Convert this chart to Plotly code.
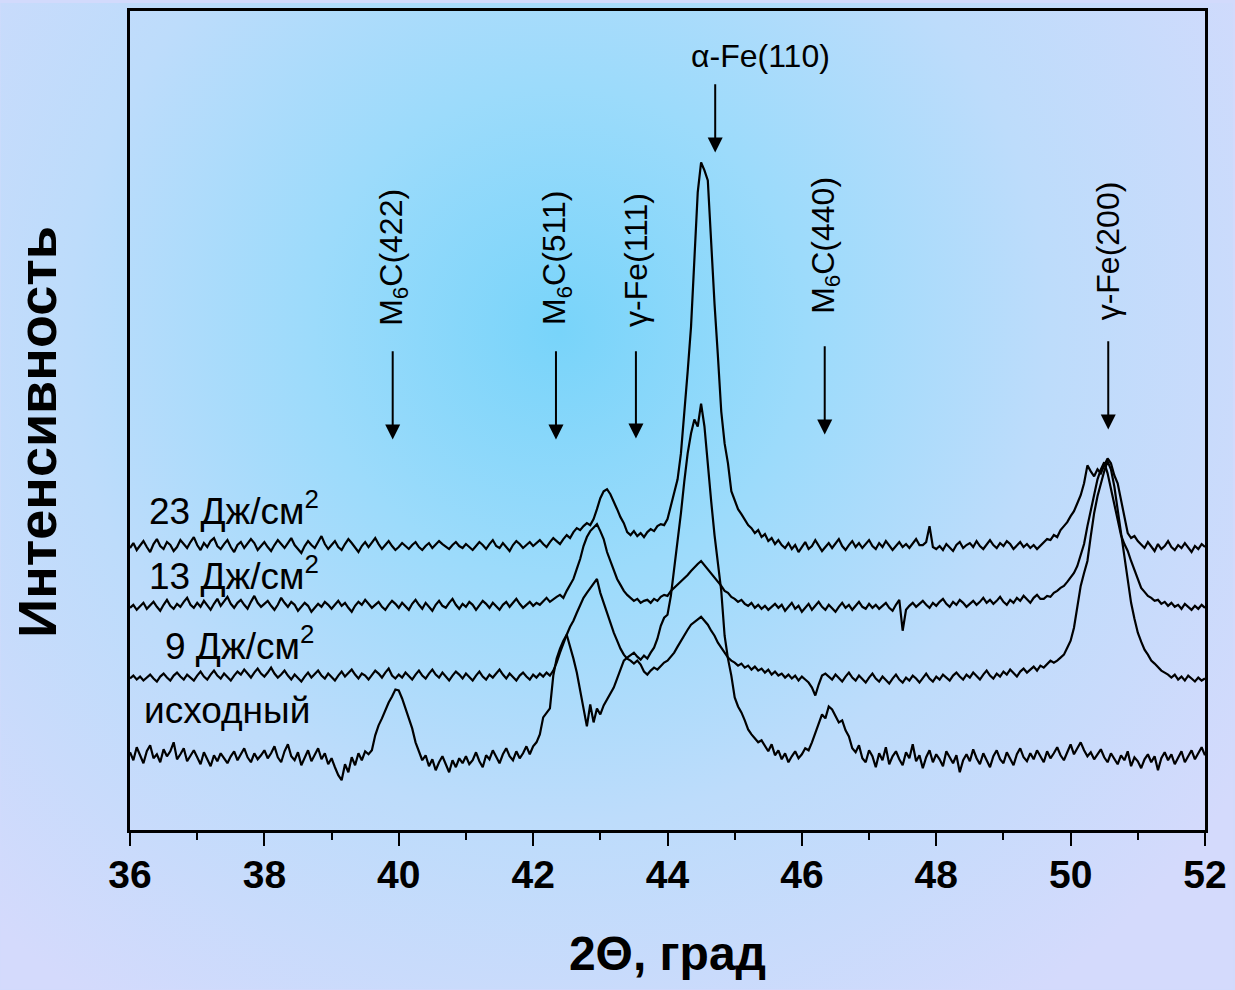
import base64
import numpy as np
import plotly.graph_objects as go

# 2θ scan grid: 36–52 degrees, 0.05 degree step
TWO_THETA = np.round(36 + 0.05 * np.arange(321), 2)

# Intensities (arbitrary units), one row per degree (20 points), last value at 52.00
I_23 = [
    283, 288, 281, 286, 290, 284, 279, 287, 292, 285, 282, 289, 286, 280, 284, 291, 287, 283, 289, 294,
    286, 281, 288, 284, 290, 293, 285, 282, 287, 291, 284, 279, 286, 289, 283, 287, 292, 288, 281, 285,
    289, 284, 280, 286, 291, 287, 283, 288, 293, 286, 282, 278, 285, 290, 286, 283, 289, 295, 287, 282,
    286, 290, 284, 281, 287, 292, 288, 283, 279, 285, 289, 284, 288, 293, 287, 282, 286, 290, 285, 281,
    284, 288, 285, 282, 286, 289, 284, 281, 285, 288, 283, 286, 290, 287, 284, 282, 286, 289, 285, 283,
    287, 284, 281, 285, 289, 286, 282, 287, 291, 285, 283, 288, 284, 280, 286, 290, 287, 283, 286, 289,
    285, 288, 291, 287, 284, 289, 293, 290, 287, 292, 296, 293, 299, 303, 301, 305, 308, 306, 312, 322,
    333, 340, 342, 337, 330, 322, 314, 308, 299, 296, 300, 295, 298, 294, 299, 302, 300, 305, 307, 306,
    312, 326, 337, 352, 378, 415, 460, 505, 570, 640, 670, 662, 652, 585, 528, 476, 420, 388, 368, 340,
    330, 322, 317, 312, 306, 303, 298, 301, 294, 297, 290, 293, 287, 291, 286, 283, 288, 282, 286, 279,
    284, 289, 282, 285, 291, 286, 280, 284, 288, 283, 287, 292, 285, 281, 286, 290, 284, 288, 283, 287,
    291, 285, 282, 288, 284, 290, 286, 281, 285, 289, 284, 287, 283, 288, 292, 286, 286, 289, 305, 284,
    282, 285, 281, 287, 284, 280, 286, 289, 283, 286, 288, 284, 290, 285, 282, 287, 291, 286, 283, 288,
    285, 290, 287, 282, 286, 289, 284, 287, 283, 286, 282, 285, 289, 292, 291, 296, 294, 301, 305, 309,
    315, 320, 328, 336, 348, 366, 360, 355, 362, 358, 366, 373, 368, 356, 348, 330, 312, 298, 293, 295,
    290, 286, 283, 289, 284, 280, 287, 282, 285, 290, 284, 281, 286, 283, 288, 284, 279, 285, 282, 287,
    284,
]

I_13 = [
    223, 226, 221, 224, 228, 222, 225, 229, 224, 220, 226, 231, 225, 222, 227, 224, 229, 233, 226, 223,
    228, 224, 230, 226, 221, 227, 232, 225, 229, 234, 227, 223, 228, 231, 226, 222, 229, 235, 228, 224,
    227, 230, 225, 221, 226, 233, 228, 224, 229, 226, 220, 224, 228, 225, 219, 223, 227, 224, 229, 226,
    222, 226, 230, 225, 228, 223, 219, 225, 229, 226, 231, 227, 223, 226, 229, 224, 221, 226, 230, 227,
    223, 228, 225, 221, 227, 231, 226, 222, 228, 224, 220, 226, 230, 225, 223, 228, 232, 226, 222, 227,
    224, 229, 226, 221, 225, 230, 227, 223, 228, 225, 221, 226, 229, 224, 228, 232, 227, 223, 226, 229,
    225, 228, 226, 230, 233, 229, 232, 234, 236, 233, 240, 246, 252, 262, 272, 285, 294, 300, 304, 307,
    300, 292, 279, 270, 262, 252, 246, 240, 236, 233, 230, 232, 228, 230, 231, 228, 232, 230, 234, 236,
    235, 240, 243, 247, 250, 253, 256, 260, 264, 267, 270, 266, 262, 258, 254, 249, 245, 240, 238, 234,
    232, 229, 231, 227, 225, 228, 223, 226, 222, 225, 221, 224, 227, 223, 226, 220, 224, 228, 222, 225,
    219, 223, 227, 221, 225, 229, 224, 221, 226, 222, 219, 224, 228, 223, 226, 221, 225, 229, 224, 222,
    227, 223, 226, 222, 225, 228, 223, 220, 226, 231, 200, 221, 225, 228, 224, 227, 230, 226, 223, 228,
    225, 229, 232, 227, 224, 229, 226, 231, 228, 224, 227, 230, 226, 229, 233, 228, 231, 227, 230, 234,
    229, 226, 231, 228, 233, 230, 235, 231, 228, 233, 236, 232, 232, 235, 234, 238, 240, 243, 245, 249,
    253, 258, 265, 275, 287, 305, 320, 338, 352, 362, 369, 358, 342, 326, 309, 296, 287, 280, 270, 261,
    251, 243, 239, 235, 233, 230, 231, 227, 229, 225, 228, 224, 226, 222, 227, 224, 221, 225, 222, 226,
    223,
]

I_9 = [
    152, 155, 151, 154, 150, 153, 156, 152, 149, 154, 157, 153, 150, 155, 158, 154, 151, 156, 153, 150,
    155, 159, 154, 151, 156, 160, 155, 152, 157, 154, 150, 155, 159, 156, 161, 157, 153, 158, 162, 157,
    154, 158, 163, 157, 153, 156, 160, 155, 151, 156, 153, 149, 154, 158, 153, 156, 160, 155, 152, 157,
    153, 150, 155, 159, 154, 157, 161, 156, 152, 157, 155, 151, 156, 160, 157, 153, 158, 162, 155, 152,
    156, 153, 158, 154, 151, 156, 160, 155, 152, 157, 161, 156, 153, 158, 154, 150, 155, 159, 156, 152,
    157, 153, 150, 155, 159, 154, 151, 156, 153, 157, 161, 156, 152, 157, 154, 150, 155, 158, 154, 151,
    156, 153, 157, 154, 158, 155, 160, 168, 178, 188, 196, 204, 210, 218, 226, 233, 238, 243, 248, 252,
    238, 228, 216, 207, 198, 190, 182, 176, 172, 170, 167, 170, 166, 159, 156, 160, 163, 161, 165, 168,
    170, 174, 178, 184, 190, 196, 201, 206, 209, 212, 214, 210, 206, 200, 195, 188, 183, 178, 173, 170,
    168, 165, 167, 163, 165, 161, 164, 160, 162, 158, 161, 156, 159, 155, 157, 153, 156, 152, 155, 150,
    154, 151, 148, 143, 135, 146, 155, 157, 154, 151, 156, 152, 149, 154, 158, 153, 150, 155, 151, 148,
    153, 157, 152, 149, 154, 151, 147, 152, 156, 151, 148, 153, 150, 155, 152, 148, 153, 157, 152, 149,
    154, 151, 156, 153, 150, 155, 158, 154, 151, 156, 153, 158, 155, 151, 156, 160, 155, 152, 157, 154,
    159, 156, 161, 157, 154, 159, 162, 158, 161, 164, 160, 165, 163, 167, 170, 168, 170, 173, 176, 183,
    190, 203, 225, 245, 258, 270, 295, 318, 335, 348, 360, 370, 362, 345, 322, 298, 277, 250, 228, 212,
    198, 189, 181, 176, 170, 167, 163, 160, 158, 156, 153, 156, 151, 154, 150, 155, 152, 149, 153, 150,
    152,
]

I_INITIAL = [
    78, 70, 83, 74, 67, 79, 85, 72, 76, 68, 81, 74, 79, 88, 71, 76, 82, 69, 75, 80,
    73, 66, 78, 71, 64, 75, 69, 77, 72, 67, 74, 79, 70, 76, 82, 73, 68, 77, 71, 75,
    80, 72, 77, 84, 73, 68, 79, 86, 74, 70, 78, 65, 73, 80, 69, 75, 82, 71, 77, 66,
    72, 63, 55, 50, 66, 58, 73, 65, 77, 70, 79, 76, 80, 95, 105, 112, 120, 128, 134, 141,
    140, 132, 122, 112, 102, 88, 78, 70, 75, 64, 71, 60, 68, 74, 66, 58, 70, 63, 72, 67,
    74, 66, 70, 78, 69, 63, 75, 71, 80, 73, 67, 76, 82, 74, 70, 79, 72, 77, 84, 76,
    84, 88, 96, 113, 117, 122, 155, 172, 182, 190, 196, 185, 172, 158, 140, 120, 104, 126, 108, 122,
    116, 125, 131, 137, 143, 152, 162, 170, 173, 176, 178, 174, 171, 175, 172, 178, 183, 192, 205, 213,
    216, 235, 262, 290, 318, 350, 378, 398, 412, 405, 428, 405, 365, 330, 296, 265, 240, 195, 172, 155,
    133, 124, 118, 110, 101, 96, 92, 88, 90, 84, 79, 86, 75, 80, 71, 77, 68, 74, 79, 72,
    76, 82, 80, 88, 98, 108, 116, 112, 124, 121, 115, 108, 110, 100, 94, 82, 78, 85, 72, 68,
    80, 74, 63, 77, 70, 83, 66, 74, 79, 71, 65, 78, 72, 86, 69, 75, 62, 73, 80, 68,
    76, 71, 64, 79, 73, 67, 75, 58, 70, 76, 69, 81, 72, 66, 77, 70, 63, 74, 80, 71,
    67, 78, 72, 65, 76, 82, 73, 69, 77, 71, 80, 74, 68, 79, 72, 77, 83, 75, 70, 78,
    86, 76, 82, 88, 80, 74, 78, 71, 76, 81, 73, 68, 77, 72, 66, 75, 70, 79, 64, 73,
    69, 62, 71, 76, 68, 74, 60, 72, 78, 70, 76, 66, 73, 79, 68, 74, 80, 71, 77, 83,
    75,
]

SERIES = [I_23, I_13, I_9, I_INITIAL]
SERIES_LABELS = ["23 Дж/см<sup>2</sup>", "13 Дж/см<sup>2</sup>", "9 Дж/см<sup>2</sup>", "исходный"]

# Reflection markers: label, 2θ position
PEAK_LABELS = ["M<sub>6</sub>C(422)", "M<sub>6</sub>C(511)", "γ-Fe(111)",
               "α-Fe(110)", "M<sub>6</sub>C(440)", "γ-Fe(200)"]
PEAK_POS = [39.91, 42.34, 43.53, 44.71, 46.34, 50.56]

X_TICKS = [36, 38, 40, 42, 44, 46, 48, 50, 52]

for s in SERIES:
    assert len(s) == len(TWO_THETA), len(s)

FONT = "Liberation Sans, Arial, sans-serif"

W, H = 1235, 990
L, R, T, B = 130, 28, 8, 160
pw, ph = W - L - R, H - T - B

fig = go.Figure()
for s in SERIES:
    fig.add_trace(go.Scatter(x=TWO_THETA, y=s, mode="lines",
                             line=dict(color="black", width=2.2),
                             showlegend=False, hoverinfo="skip"))

# curve captions (x position, y position of caption)
label_xy = [(36.25, 323), (36.25, 257), (36.49, 187), (36.18, 120)]
for text, (lx, ly) in zip(SERIES_LABELS, label_xy):
    fig.add_annotation(x=lx, y=ly, text=text, showarrow=False,
                       xanchor="left", yanchor="middle",
                       font=dict(family=FONT, size=37, color="black"))

# reflection labels with downward arrows
label_center_y = [575, 575, 572, None, 587, 581]
arrow_tail = [482, 482, 482, 750, 487, 492]
arrow_tip = [392, 392, 393, 680, 397, 402]
for text, px, cy, tail, tip in zip(PEAK_LABELS, PEAK_POS, label_center_y, arrow_tail, arrow_tip):
    if cy is None:
        fig.add_annotation(x=45.39, y=777, text=text, showarrow=False,
                           xanchor="center", yanchor="middle",
                           font=dict(family=FONT, size=32, color="black"))
    else:
        fig.add_annotation(x=px, y=cy, text=text, showarrow=False, textangle=-90,
                           xanchor="center", yanchor="middle",
                           font=dict(family=FONT, size=32, color="black"))
    fig.add_annotation(x=px, y=tip, ax=px, ay=tail, axref="x", ayref="y",
                       text="", showarrow=True, arrowhead=2, arrowsize=1.5,
                       arrowwidth=2, arrowcolor="black", standoff=0)

# vertical axis caption
fig.add_annotation(x=-(L - 37) / pw, y=(830 - 430 - (H - B - 830)) / ph,
                   xref="paper", yref="paper", text="Интенсивность",
                   showarrow=False, textangle=-90, xanchor="center", yanchor="middle",
                   font=dict(family=FONT, size=54, weight="bold", color="black"))

# soft radial background
svg = (
    '<svg xmlns="http://www.w3.org/2000/svg" width="1235" height="990">'
    '<defs><radialGradient id="g" gradientUnits="userSpaceOnUse" cx="560" cy="330" r="820">'
    '<stop offset="0" stop-color="#78d4fa"/>'
    '<stop offset="0.3" stop-color="#9cdbfb"/>'
    '<stop offset="0.6" stop-color="#bddcfb"/>'
    '<stop offset="1" stop-color="#d4dafc"/>'
    '</radialGradient></defs>'
    '<rect width="1235" height="990" fill="url(#g)"/></svg>'
)
bg_uri = "data:image/svg+xml;base64," + base64.b64encode(svg.encode()).decode()

fig.add_layout_image(dict(source=bg_uri, xref="paper", yref="paper",
                          x=-L / pw, y=1 + T / ph, sizex=W / pw, sizey=H / ph,
                          xanchor="left", yanchor="top", sizing="stretch",
                          layer="below"))

fig.update_layout(
    width=W, height=H,
    margin=dict(l=L, r=R, t=T, b=B),
    paper_bgcolor="#d2dafc",
    plot_bgcolor="rgba(0,0,0,0)",
    font=dict(family=FONT, color="black"),
    xaxis=dict(range=[36, 52], tickmode="array", tickvals=X_TICKS,
               ticks="outside", ticklen=13, tickwidth=2, tickcolor="black",
               minor=dict(dtick=1, ticks="outside", ticklen=7, tickwidth=2, tickcolor="black"),
               showline=True, linewidth=3, linecolor="black", mirror=True,
               showgrid=False, zeroline=False, ticklabelstandoff=-5,
               tickfont=dict(family=FONT, size=39, weight="bold"),
               title=dict(text="2Θ, град", standoff=42,
                          font=dict(family=FONT, size=48, weight="bold"))),
    yaxis=dict(range=[0, 822], showticklabels=False, ticks="",
               showline=True, linewidth=3, linecolor="black", mirror=True,
               showgrid=False, zeroline=False),
)

fig.write_html("out.html")
